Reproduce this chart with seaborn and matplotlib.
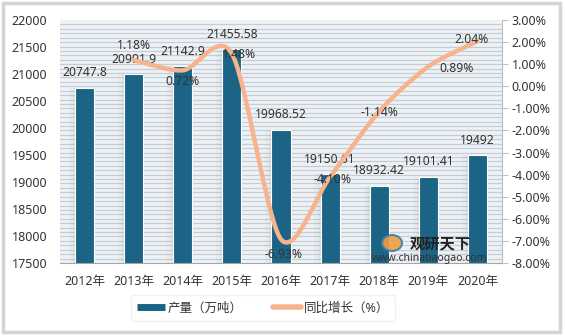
import numpy as np
import pandas as pd
import matplotlib
matplotlib.use("Agg")
import matplotlib.pyplot as plt
import seaborn as sns
from matplotlib.lines import Line2D
from matplotlib.patches import Rectangle, Ellipse
from matplotlib.ticker import MultipleLocator, FuncFormatter, FixedLocator

years = ["2012年", "2013年", "2014年", "2015年", "2016年", "2017年", "2018年", "2019年", "2020年"]
output = [20747.8, 20991.9, 21142.9, 21455.58, 19968.52, 19150.61, 18932.42, 19101.41, 19492]
output_labels = ["20747.8", "20991.9", "21142.9", "21455.58", "19968.52", "19150.61", "18932.42", "19101.41", "19492"]
growth_years = ["2013年", "2014年", "2015年", "2016年", "2017年", "2018年", "2019年", "2020年"]
growth = [1.18, 0.72, 1.48, -6.93, -4.10, -1.14, 0.89, 2.04]
legend_labels = ["产量（万吨）", "同比增长（%）"]

BAR = "#1b6486"
LINE = "#f7b48c"
TXT = "#333333"

sns.set_style("white")
plt.rcParams['font.family'] = ['Noto Sans', 'Noto Sans CJK SC', 'DejaVu Sans']
plt.rcParams['font.size'] = 8.5

fig = plt.figure(figsize=(5.65, 3.36), dpi=100)
fig.patch.set_facecolor("white")
fig.patches.append(Rectangle((0.006, 0.012), 0.986, 0.978, transform=fig.transFigure,
                             fill=False, edgecolor="#d4d4d4", lw=2.5, zorder=0))

ax = fig.add_axes([60/565, 1-263/336, 442/565, 243/336])
ax.set_facecolor("#edf2f6")

df = pd.DataFrame({"year": years, "output": output})
xpos = np.arange(len(years))

# soft shadows to the left of each bar
for w, a in [(0.70, 0.05), (0.62, 0.07), (0.54, 0.10), (0.47, 0.14)]:
    ax.bar(xpos - (w - 0.39) / 2, output, width=w - 0.39 + 0.02, bottom=0,
           color="#808080", alpha=a, zorder=1, linewidth=0)

sns.barplot(data=df, x="year", y="output", ax=ax, color=BAR, width=0.39,
            saturation=1, edgecolor="white", linewidth=0.8, zorder=2)

ax.set_ylim(17500, 22000)
ax.set_xlim(-0.5, len(years) - 0.5)
ax.yaxis.set_major_locator(MultipleLocator(500))
ax.yaxis.set_minor_locator(FixedLocator(np.linspace(17500, 22000, 56)))
ax.grid(axis="y", which="minor", color="#c6cdd4", lw=0.9)
ax.grid(axis="y", which="major", visible=False)
ax.set_axisbelow(True)
ax.set_xlabel("")
ax.set_ylabel("")
for s in ["top", "left", "right"]:
    ax.spines[s].set_visible(False)
ax.spines["bottom"].set_color("#a6a6a6")
ax.tick_params(axis="y", which="both", length=0, pad=9, labelsize=9, colors=TXT)
ax.tick_params(axis="x", length=3, color="#c8c8c8", pad=6, labelsize=9, colors=TXT)

for x, v, lab in zip(xpos, output, output_labels):
    ax.annotate(lab, (x, v), xytext=(0, 6), textcoords="offset points",
                ha="center", va="bottom", fontsize=8.7, color=TXT, zorder=5)

ax2 = ax.twinx()
gx = np.array([years.index(y) for y in growth_years], dtype=float)
gy = np.array(growth)

# smoothing similar to Excel smoothed line
def smooth(xs, ys, n=40, k=1/7):
    P = np.column_stack([xs, ys])
    P = np.vstack([P[0] - (P[1] - P[0]), P, P[-1] + (P[-1] - P[-2])])
    out = []
    for i in range(1, len(P) - 2):
        p0, p1, p2, p3 = P[i-1], P[i], P[i+1], P[i+2]
        c1 = p1 + (p2 - p0) * k
        c2 = p2 - (p3 - p1) * k
        t = np.linspace(0, 1, n)[:, None]
        seg = (1-t)**3*p1 + 3*(1-t)**2*t*c1 + 3*(1-t)*t**2*c2 + t**3*p2
        out.append(seg if i == 1 else seg[1:])
    out = np.vstack(out)
    return out[:, 0], out[:, 1]

sx, sy = smooth(gx, gy)
ax2.plot(sx, sy, color=LINE, lw=3.2, solid_capstyle="round", zorder=3)
ax2.set_ylim(-8, 3)
ax2.yaxis.set_major_locator(MultipleLocator(1))
ax2.yaxis.set_major_formatter(FuncFormatter(lambda v, p: f"{v:.2f}%"))
for s in ["top", "left", "bottom"]:
    ax2.spines[s].set_visible(False)
ax2.spines["right"].set_color("#bfbfbf")
ax2.tick_params(axis="y", length=4, color="#bfbfbf", pad=3, labelsize=9, colors=TXT)
ax2.set_xlim(-0.5, len(years) - 0.5)

offsets = [(0, 6, "center", "bottom"), (0, -3, "center", "top"), (5, -1, "center", "center"),
           (2, -6, "center", "top"), (2, -2, "center", "center"), (0, -1, "center", "center"),
           (20, -1, "center", "center"), (-4, 1, "center", "center")]
for x, v, (dx, dy, ha, va) in zip(gx, gy, offsets):
    ax2.annotate(f"{v:.2f}%", (x, v), xytext=(dx, dy), textcoords="offset points",
                 ha=ha, va=va, fontsize=8.7, color=TXT, zorder=6)

# watermark
fig.text(440/565, 1-243/336, "观研天下", fontsize=11, fontweight="bold", color="#222222",
         ha="center", va="center", family=['Noto Sans CJK SC'])
fig.text(430/565, 1-258/336, "www.chinabaogao.com", fontsize=7.5, color="#333333",
         ha="center", va="center")
fig.patches.append(Ellipse((392/565, 1-243/336), 20/565, 16/336,
                   transform=fig.transFigure, facecolor="#f0a040", edgecolor="#3a7fb0", lw=1.5, alpha=0.9))

handles = [Line2D([], [], color=BAR, lw=5, solid_capstyle="butt"),
           Line2D([], [], color=LINE, lw=4, solid_capstyle="round")]
leg = fig.legend(handles, legend_labels, loc="center", bbox_to_anchor=(263/565, 1-308/336),
                 ncol=2, frameon=True, fontsize=9, handlelength=2.2, handletextpad=0.2,
                 columnspacing=2.5, borderpad=0.5, fancybox=False)
leg.get_frame().set_edgecolor("#f0f0f0")
leg.get_frame().set_linewidth(1)
for t in leg.get_texts():
    t.set_color(TXT)

fig.savefig("out.png", dpi=100)
